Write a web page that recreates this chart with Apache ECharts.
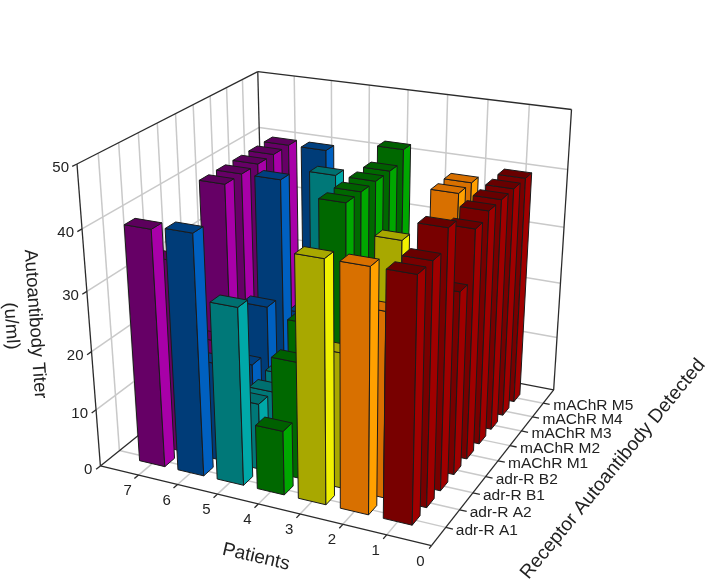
<!DOCTYPE html>
<html>
<head>
<meta charset="utf-8">
<style>html,body{margin:0;padding:0;background:#fff}#chart-container{width:709px;height:586px}</style>
<script src="https://cdn.jsdelivr.net/npm/echarts@6/dist/echarts.min.js"></script>
</head>
<body>
<div id="chart-container"></div>
<script>
var patients = ['1', '2', '3', '4', '5', '6', '7'];
var receptors = ['adr-R A1', 'adr-R A2', 'adr-R B1', 'adr-R B2', 'mAChR M1', 'mAChR M2', 'mAChR M3', 'mAChR M4', 'mAChR M5'];
var titerTicks = [0, 10, 20, 30, 40, 50];

// values per receptor, A1 .. M5
var patient1 = [40, 40, 43, 31, 39, 40, 40, 40, 40];
var patient2 = [40, 31, 12, 10, 8, 8, 40, 40, 12];
var patient3 = [40, 23, 10, 10, 10, 33, 10, 10, 10];
var patient4 = [11, 20, 24, 10, 40, 40, 40, 40, 42];
var patient5 = [30, 11.5, 11, 11.5, 5, 10, 40, 15, 15];
var patient6 = [40.5, 17, 10, 12, 20, 40, 12, 12, 40];
var patient7 = [40, 33, 15, 15, 40, 40, 40, 40, 40];
var titers = [patient1, patient2, patient3, patient4, patient5, patient6, patient7];

var darkFace = ['#780000', '#d87000', '#a8a800', '#006800', '#007878', '#003c78', '#660066'];
var lightFace = ['#a00000', '#ffa000', '#f0f000', '#00a800', '#00a8a8', '#0060c0', '#a800a8'];
var topFace = ['#680000', '#d87000', '#a8a800', '#006000', '#007070', '#004080', '#5c005c'];

var dom = document.getElementById('chart-container');
var myChart = echarts.init(dom, null, { renderer: 'canvas' });

// world box: x 0..8 (patients), y 0..10 (receptors), z 0..50 (titer)
var xMax = patients.length + 1, yMax = receptors.length + 1, zMax = 50;
var barHalfX = 0.33, barHalfY = 0.27;

// calibration of the camera against the box corners and axis ticks
var calib = [
  [8, 0, 0, 101, 466], [8, 0, 50, 77, 164], [0, 0, 0, 432, 545], [0, 10, 0, 554, 391],
  [0, 10, 50, 572, 110], [8, 10, 50, 258, 71], [8, 10, 40, 259, 128], [0, 10, 40, 567, 169],
  [8, 0, 40, 82, 229], [1, 0, 0, 385, 535], [7, 0, 0, 138, 475], [0, 1, 0, 447, 528], [0, 9, 0, 543, 402]
];

function solve(A, b) {
  var n = b.length;
  for (var i = 0; i < n; i++) {
    var piv = i;
    for (var r = i + 1; r < n; r++) if (Math.abs(A[r][i]) > Math.abs(A[piv][i])) piv = r;
    var t = A[i]; A[i] = A[piv]; A[piv] = t;
    var u = b[i]; b[i] = b[piv]; b[piv] = u;
    for (r = i + 1; r < n; r++) {
      var f = A[r][i] / A[i][i];
      for (var c = i; c < n; c++) A[r][c] -= f * A[i][c];
      b[r] -= f * b[i];
    }
  }
  var out = [];
  for (i = n - 1; i >= 0; i--) {
    var s = b[i];
    for (c = i + 1; c < n; c++) s -= A[i][c] * out[c];
    out[i] = s / A[i][i];
  }
  return out;
}

function fitCamera(pts) {
  var rows = [], rhs = [];
  pts.forEach(function (p) {
    var x = p[0] / 8, y = p[1] / 10, z = p[2] / 50, u = p[3] / 500, v = p[4] / 500;
    rows.push([x, y, z, 1, 0, 0, 0, 0, -u * x, -u * y, -u * z]); rhs.push(u);
    rows.push([0, 0, 0, 0, x, y, z, 1, -v * x, -v * y, -v * z]); rhs.push(v);
  });
  var N = [], d = [];
  for (var i = 0; i < 11; i++) {
    N.push([]); d.push(0);
    for (var j = 0; j < 11; j++) {
      var s = 0;
      for (var k = 0; k < rows.length; k++) s += rows[k][i] * rows[k][j];
      N[i].push(s);
    }
    for (k = 0; k < rows.length; k++) d[i] += rows[k][i] * rhs[k];
  }
  return solve(N, d);
}

var cam = fitCamera(calib);

function project(x, y, z) {
  var a = x / 8, b = y / 10, c = z / 50;
  var w = cam[8] * a + cam[9] * b + cam[10] * c + 1;
  return [
    500 * (cam[0] * a + cam[1] * b + cam[2] * c + cam[3]) / w,
    500 * (cam[4] * a + cam[5] * b + cam[6] * c + cam[7]) / w
  ];
}

// box lines
var gridLines = [], frameLines = [];
for (var xi = 1; xi < xMax; xi++) {
  gridLines.push([xi, 0, 0, xi, yMax, 0]);
  gridLines.push([xi, yMax, 0, xi, yMax, zMax]);
  frameLines.push([xi, 0, 0, xi, -0.22, 0]);
}
for (var yi = 1; yi < yMax; yi++) {
  gridLines.push([0, yi, 0, xMax, yi, 0]);
  gridLines.push([xMax, yi, 0, xMax, yi, zMax]);
  frameLines.push([0, yi, 0, -0.16, yi, 0]);
}
titerTicks.forEach(function (t) {
  if (t > 0 && t < zMax) {
    gridLines.push([xMax, 0, t, xMax, yMax, t]);
    gridLines.push([0, yMax, t, xMax, yMax, t]);
  }
  frameLines.push([xMax, 0, t, xMax, -0.22, t]);
});
frameLines.push(
  [xMax, 0, 0, 0, 0, 0], [0, 0, 0, 0, yMax, 0], [0, yMax, 0, xMax, yMax, 0], [xMax, yMax, 0, xMax, 0, 0],
  [xMax, 0, 0, xMax, 0, zMax], [xMax, 0, zMax, xMax, yMax, zMax], [xMax, yMax, zMax, 0, yMax, zMax],
  [0, yMax, zMax, 0, yMax, 0], [xMax, yMax, 0, xMax, yMax, zMax],
  [0, 0, 0, 0, -0.16, 0]
);

function lineSeries(data, color, width) {
  return {
    type: 'custom',
    coordinateSystem: 'none',
    silent: true,
    animation: false,
    data: data,
    renderItem: function (params, api) {
      var a = project(api.value(0), api.value(1), api.value(2));
      var b = project(api.value(3), api.value(4), api.value(5));
      return {
        type: 'line',
        shape: { x1: a[0], y1: a[1], x2: b[0], y2: b[1] },
        style: { stroke: color, lineWidth: width, fill: null }
      };
    }
  };
}

function barSeries(p) {
  var data = [];
  for (var r = receptors.length - 1; r >= 0; r--) data.push([p + 1, r + 1, titers[p][r]]);
  return {
    type: 'custom',
    coordinateSystem: 'none',
    silent: true,
    animation: false,
    data: data,
    renderItem: function (params, api) {
      var xc = api.value(0), yc = api.value(1), h = api.value(2);
      var x0 = xc - barHalfX, x1 = xc + barHalfX, y0 = yc - barHalfY, y1 = yc + barHalfY;
      function face(points, fill) {
        return {
          type: 'polygon',
          shape: { points: points.map(function (q) { return project(q[0], q[1], q[2]); }) },
          style: { fill: fill, stroke: '#1a1a1a', lineWidth: 1, lineJoin: 'round' }
        };
      }
      return {
        type: 'group',
        children: [
          face([[x0, y0, 0], [x1, y0, 0], [x1, y0, h], [x0, y0, h]], darkFace[p]),
          face([[x0, y0, 0], [x0, y1, 0], [x0, y1, h], [x0, y0, h]], lightFace[p]),
          face([[x0, y0, h], [x1, y0, h], [x1, y1, h], [x0, y1, h]], topFace[p])
        ]
      };
    }
  };
}

var series = [lineSeries(gridLines, '#c9c9c9', 1.5), lineSeries(frameLines, '#2b2b2b', 1.3)];
for (var p = patients.length - 1; p >= 0; p--) series.push(barSeries(p));

// axis text
var font = 'Liberation Sans';
var graphic = [];
function addText(text, x, y, size, align, rotate) {
  graphic.push({
    type: 'text',
    x: x,
    y: y,
    rotation: (rotate || 0) * Math.PI / 180,
    silent: true,
    style: { text: text, fontFamily: font, fontSize: size, fill: '#222', align: align, verticalAlign: 'middle' }
  });
}
titerTicks.forEach(function (t) {
  var q = project(xMax, 0, t);
  addText(String(t), q[0] - 8, q[1] + 4, 15, 'right');
});
patients.concat(['0']).forEach(function (name) {
  var q = project(Number(name), 0, 0);
  addText(name, q[0] - 11, q[1] + 16, 15, 'center');
});
receptors.forEach(function (name, i) {
  var q = project(0, i + 1, 0);
  addText(name, q[0] + 10, q[1] + 3, 15.5, 'left');
});
addText('Autoantibody Titer', 35, 324, 18.5, 'center', -86);
addText('(u/ml)', 11, 326, 18.5, 'center', -86);
addText('Patients', 256, 557, 19, 'center', -13);
addText('Receptor Autoantibody Detected', 613, 469, 19.3, 'center', 50.5);

var option = {
  backgroundColor: '#fff',
  animation: false,
  graphic: graphic,
  series: series
};

myChart.setOption(option);
window.addEventListener('resize', myChart.resize);
</script>
</body>
</html>
